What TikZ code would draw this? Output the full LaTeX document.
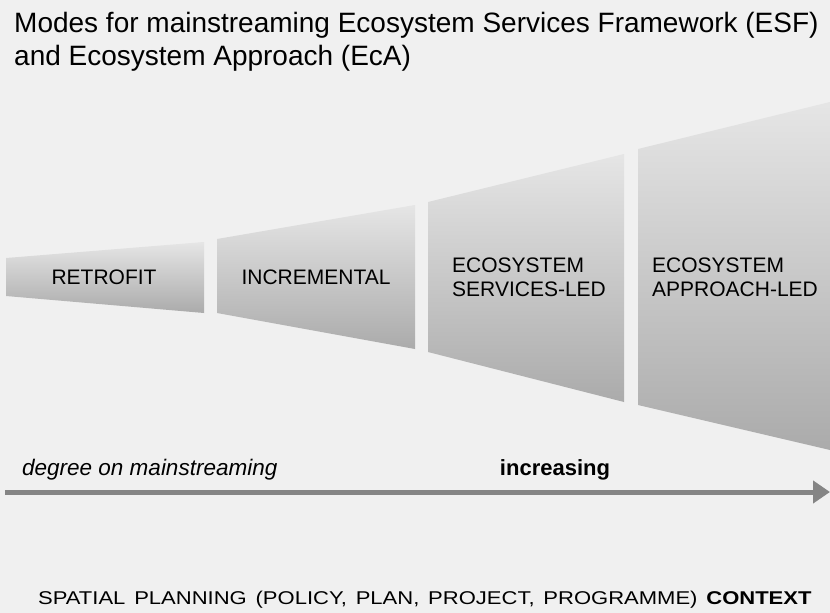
\documentclass[tikz,border=0pt]{standalone}
\usepackage{fontspec}
\setmainfont{Liberation Sans}
\usetikzlibrary{arrows.meta,positioning}

\begin{document}
\begin{tikzpicture}[
    x=1pt, y=-1pt,
    panel/.style={top color=black!10, bottom color=black!33, draw=none},
    lbl/.style={font=\fontsize{21}{24}\selectfont, align=left, inner sep=0pt},
    >=Stealth
]
% background
\fill[black!6] (0,0) rectangle (830,613);
\useasboundingbox (0,0) rectangle (830,613);

% title
\node[anchor=north west, inner sep=0pt, align=left,
      font=\fontsize{28}{33}\selectfont] (title) at (14,12)
  {Modes for mainstreaming Ecosystem Services Framework (ESF)\\and Ecosystem Approach (EcA)};

% the four panels, widening to the right
\shade[panel] (6,258) -- (204,242) -- (204,313) -- (6,296) -- cycle;
\shade[panel] (217,239) -- (415,205) -- (415,349) -- (217,313) -- cycle;
\shade[panel] (428,202) -- (624,154) -- (624,402) -- (428,352) -- cycle;
\shade[panel] (638,149) -- (830,102) -- (830,450) -- (638,405) -- cycle;

\node[lbl] (retrofit) at (104,277) {RETROFIT};
\node[lbl] (incremental) at (316,277) {INCREMENTAL};
\node[lbl, anchor=west] (esled) at (452,277) {ECOSYSTEM\\SERVICES-LED};
\node[lbl, anchor=west] (ealed) at (652,277) {ECOSYSTEM\\APPROACH-LED};

% degree arrow
\coordinate (start) at (5,492);
\coordinate (finish) at (830,492);
\draw[line width=5pt, black!48, -{Triangle[length=17pt,width=22pt]}] (start) -- (finish);

\node[anchor=west, inner sep=0pt, font=\fontsize{22.5}{27}\selectfont\itshape]
  (degree) at (22,470) {degree on mainstreaming};
\node[inner sep=0pt, font=\fontsize{22}{26}\selectfont\bfseries]
  (increasing) at (555,470) {increasing};

% context line
\node[anchor=west, inner sep=0pt, font=\fontsize{18.5}{22}\selectfont]
  (context) at (38,600) {\scalebox{1.19}[1]{\spaceskip=0.4em
  SPATIAL PLANNING (POLICY, PLAN, PROJECT, PROGRAMME) \textbf{CONTEXT}}};
\end{tikzpicture}
\end{document}
